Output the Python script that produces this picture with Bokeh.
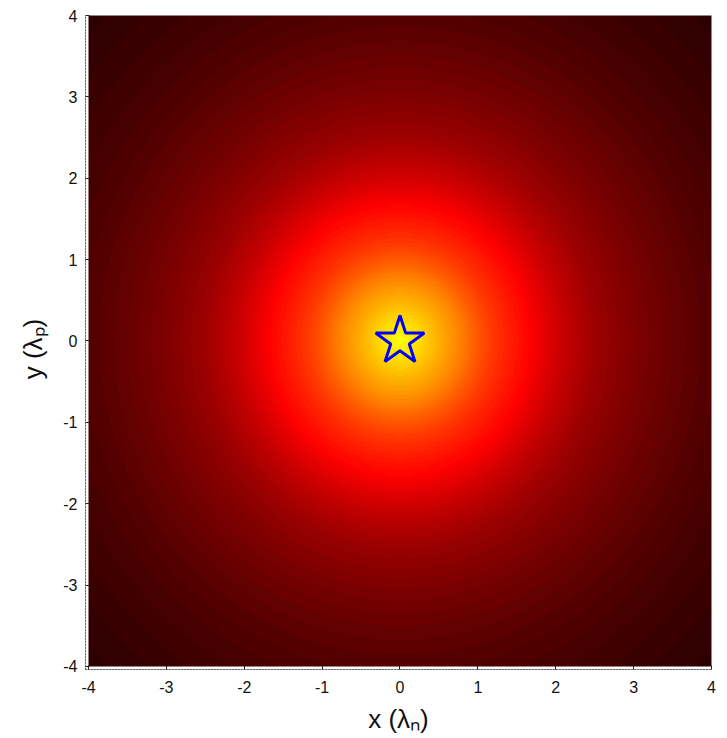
import numpy as np
from bokeh.plotting import figure
from bokeh.models import LinearColorMapper, FixedTicker
from bokeh.embed import file_html
from bokeh.resources import INLINE

# ---- data ----
x_ticks = [-4, -3, -2, -1, 0, 1, 2, 3, 4]
y_ticks = [-4, -3, -2, -1, 0, 1, 2, 3, 4]
x_extent = [-4.0, 4.0]
y_extent = [-4.0, 4.0]
# radial profile of the field (radius in lambda, colormap level 0..1)
profile_r = [0.0, 0.3, 0.77, 1.2, 1.65, 2.56, 4.0, 5.66]
profile_level = [0.75, 0.68, 0.5625, 0.45, 0.375, 0.22, 0.118, 0.059]
star_x = [0.0]
star_y = [0.0]
x_label = "x (λₙ)"
y_label = "y (λₚ)"

# ---- hot colormap (MATLAB style) ----
def hot(m):
    n = int(3 * m / 8)
    cols = []
    for i in range(m):
        r = min(1.0, (i + 1) / n)
        g = 0.0 if i < n else min(1.0, (i + 1 - n) / n)
        b = 0.0 if i < 2 * n else (i + 1 - 2 * n) / (m - 2 * n)
        cols.append("#%02x%02x%02x" % (int(round(r * 255)), int(round(g * 255)), int(round(b * 255))))
    return cols

palette = hot(96)

N = 500
xs = np.linspace(x_extent[0], x_extent[1], N)
ys = np.linspace(y_extent[0], y_extent[1], N)
X, Y = np.meshgrid(xs, ys)
R = np.hypot(X, Y)
field = np.exp(np.interp(R, profile_r, np.log(profile_level))).astype(np.float32)

pad_x = 0.0385
pad_y = 0.037
p = figure(width=719, height=736, output_backend="svg", toolbar_location=None,
           x_range=(x_extent[0] - pad_x, x_extent[1]), y_range=(y_extent[0] - pad_y, y_extent[1]),
           min_border_left=85, min_border_right=8, min_border_top=15, min_border_bottom=65)
p.background_fill_color = "white"
p.border_fill_color = "white"
p.outline_line_color = "#b4b4b4"
p.outline_line_width = 1
p.grid.visible = False

mapper = LinearColorMapper(palette=palette, low=0.0, high=1.0)
p.image(image=[field], x=x_extent[0], y=y_extent[0], dw=x_extent[1] - x_extent[0],
        dh=y_extent[1] - y_extent[0], color_mapper=mapper)

p.scatter(x=star_x, y=star_y, marker="star", size=51, fill_alpha=0,
          line_color="#0000ff", line_width=3)

for ax, ticks, lbl in ((p.xaxis[0], x_ticks, x_label), (p.yaxis[0], y_ticks, y_label)):
    ax.ticker = FixedTicker(ticks=ticks)
    ax.major_label_overrides = {t: str(t) for t in ticks}
    ax.minor_tick_line_color = None
    ax.major_tick_in = 4
    ax.major_tick_out = 0
    ax.major_tick_line_color = "#222222"
    ax.axis_line_color = "#222222"
    ax.axis_line_dash = "1 2"
    ax.major_label_text_font = "Liberation Sans"
    ax.major_label_text_font_size = "16px"
    ax.major_label_text_color = "#111111"
    ax.axis_label = lbl
    ax.axis_label_text_font = "Liberation Sans"
    ax.axis_label_text_font_size = "26px"
    ax.axis_label_text_font_style = "normal"
    ax.axis_label_text_color = "#111111"
p.yaxis[0].axis_label = y_label + "\u2002"
p.xaxis[0].major_label_standoff = 11
p.yaxis[0].major_label_standoff = 8
p.xaxis[0].axis_label_standoff = 8
p.yaxis[0].axis_label_standoff = 12

open("out.html", "w").write(file_html(p, INLINE))
